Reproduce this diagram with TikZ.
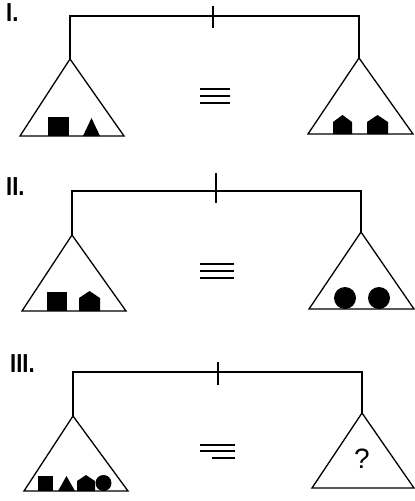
\documentclass[tikz,border=0pt]{standalone}
\usepackage{fontspec}
\setmainfont{Liberation Sans}
\begin{document}
\begin{tikzpicture}[x=1pt,y=-1pt,
  line/.style={line width=1.3pt},
  pan/.style={line width=1.3pt, line join=miter},
  blk/.style={fill=black},
  lbl/.style={font=\bfseries\fontsize{26}{26}\selectfont, anchor=north west, inner sep=0pt},
  eq/.style={line width=1.6pt},
  qm/.style={font=\fontsize{28}{28}\selectfont, inner sep=0pt}]
\useasboundingbox (0,0) rectangle (415,501);
\fill[white] (0,0) rectangle (415,501);

% ---------- Panel I ----------
\node[lbl] (l1) at (6,3) {\scalebox{0.85}[1]{I.}};
\coordinate (b1L) at (70,16); \coordinate (b1R) at (359,16);
\coordinate (a1L) at (70,59); \coordinate (a1R) at (359,58);
\coordinate (t1a) at (213,6); \coordinate (t1b) at (213,28);
\draw[line] (a1L) -- (b1L) -- (b1R) -- (a1R);
\draw[line] (t1a) -- (t1b);
\draw[pan] (a1L) -- (20,136) -- (124,136) -- cycle;
\draw[pan] (a1R) -- (308,134) -- (413,134) -- cycle;
\fill[blk] (48,117) rectangle (69,136);
\fill[blk] (83,136) -- (91.5,118) -- (100,136) -- cycle;
\fill[blk] (333,134) -- (333,122) -- (342.5,115) -- (352,122) -- (352,134) -- cycle;
\fill[blk] (367,134) -- (367,122) -- (377.5,115) -- (388,122) -- (388,134) -- cycle;
\draw[eq] (200,89) -- (230,89);
\draw[eq] (200,96) -- (230,96);
\draw[eq] (200,103) -- (230,103);

% ---------- Panel II ----------
\node[lbl] (l2) at (6,177) {\scalebox{0.85}[1]{II.}};
\coordinate (b2L) at (72,191); \coordinate (b2R) at (361,191);
\coordinate (a2L) at (72,235); \coordinate (a2R) at (361,232);
\coordinate (t2a) at (216,173); \coordinate (t2b) at (216,203);
\draw[line] (a2L) -- (b2L) -- (b2R) -- (a2R);
\draw[line] (t2a) -- (t2b);
\draw[pan] (a2L) -- (22,311) -- (126,311) -- cycle;
\draw[pan] (a2R) -- (309,309) -- (414,309) -- cycle;
\fill[blk] (47,292) rectangle (67,311);
\fill[blk] (79,311) -- (79,298) -- (89.5,291) -- (100,298) -- (100,311) -- cycle;
\fill[blk] (345,298) circle (11);
\fill[blk] (379,298) circle (11);
\draw[eq] (200,264) -- (234,264);
\draw[eq] (200,271) -- (234,271);
\draw[eq] (200,278) -- (234,278);

% ---------- Panel III ----------
\node[lbl] (l3) at (10,354) {\scalebox{0.85}[1]{III.}};
\coordinate (b3L) at (73,372); \coordinate (b3R) at (362,372);
\coordinate (a3L) at (73,416); \coordinate (a3R) at (362,413);
\coordinate (t3a) at (218,362); \coordinate (t3b) at (218,385);
\draw[line] (a3L) -- (b3L) -- (b3R) -- (a3R);
\draw[line] (t3a) -- (t3b);
\draw[pan] (a3L) -- (24,491) -- (128,491) -- cycle;
\draw[pan] (a3R) -- (312,488) -- (414,488) -- cycle;
\fill[blk] (38,476) rectangle (53,491);
\fill[blk] (58,491) -- (66.5,476) -- (75,491) -- cycle;
\fill[blk] (77,491) -- (77,481) -- (86,475) -- (95,481) -- (95,491) -- cycle;
\fill[blk] (103.5,483) circle (8);
\node[qm] (q) at (362,459) {?};
\draw[eq] (200,445) -- (235,445);
\draw[eq] (200,451) -- (235,451);
\draw[eq] (212,458) -- (235,458);
\end{tikzpicture}
\end{document}
